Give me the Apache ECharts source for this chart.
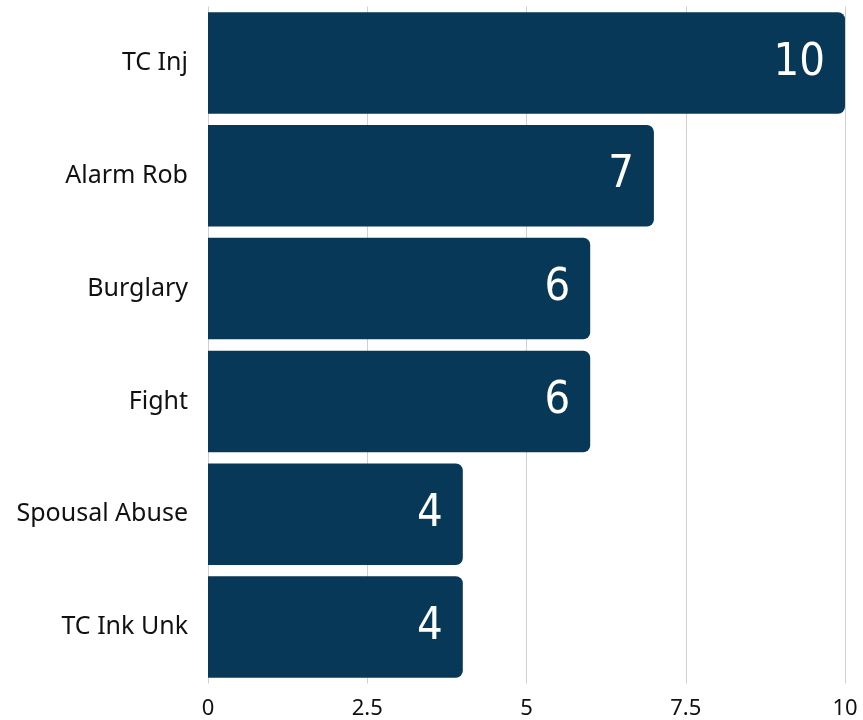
<!DOCTYPE html>
<html><head><meta charset="utf-8">
<script src="https://cdn.jsdelivr.net/npm/echarts@6/dist/echarts.min.js"></script>
<style>html,body{margin:0;padding:0;background:#fff}#c{width:863px;height:720px}</style>
</head><body><div id="c"></div>
<script>
const categories = ["TC Inj", "Alarm Rob", "Burglary", "Fight", "Spousal Abuse", "TC Ink Unk"];
const values = [10, 7, 6, 6, 4, 4];
const xTicks = [0, 2.5, 5, 7.5, 10];

const chart = echarts.init(document.getElementById('c'));
chart.setOption({
  animation: false,
  grid: {left: 208, right: 18, top: 6.5, bottom: 36.5},
  xAxis: {
    type: 'value', min: 0, max: 10, interval: 2.5,
    axisLine: {show: false}, axisTick: {show: false},
    splitLine: {show: true, lineStyle: {color: '#d0d0d0', width: 1}},
    axisLabel: {color: '#111', fontSize: 22, fontFamily: 'Noto Sans', margin: 14,
      formatter: v => xTicks.includes(v) ? String(v) : ''}
  },
  yAxis: {
    type: 'category', data: categories, inverse: true,
    axisLine: {show: false}, axisTick: {show: false},
    axisLabel: {color: '#111', fontSize: 25, fontFamily: 'Noto Sans', margin: 20}
  },
  series: [{
    type: 'bar', data: values, barCategoryGap: '10%',
    itemStyle: {color: '#073857', borderRadius: [0, 7, 7, 0]},
    label: {show: true, position: 'insideRight', color: '#fff', fontSize: 45,
      fontFamily: 'DejaVu Sans Condensed', distance: 20}
  }]
});
</script></body></html>
